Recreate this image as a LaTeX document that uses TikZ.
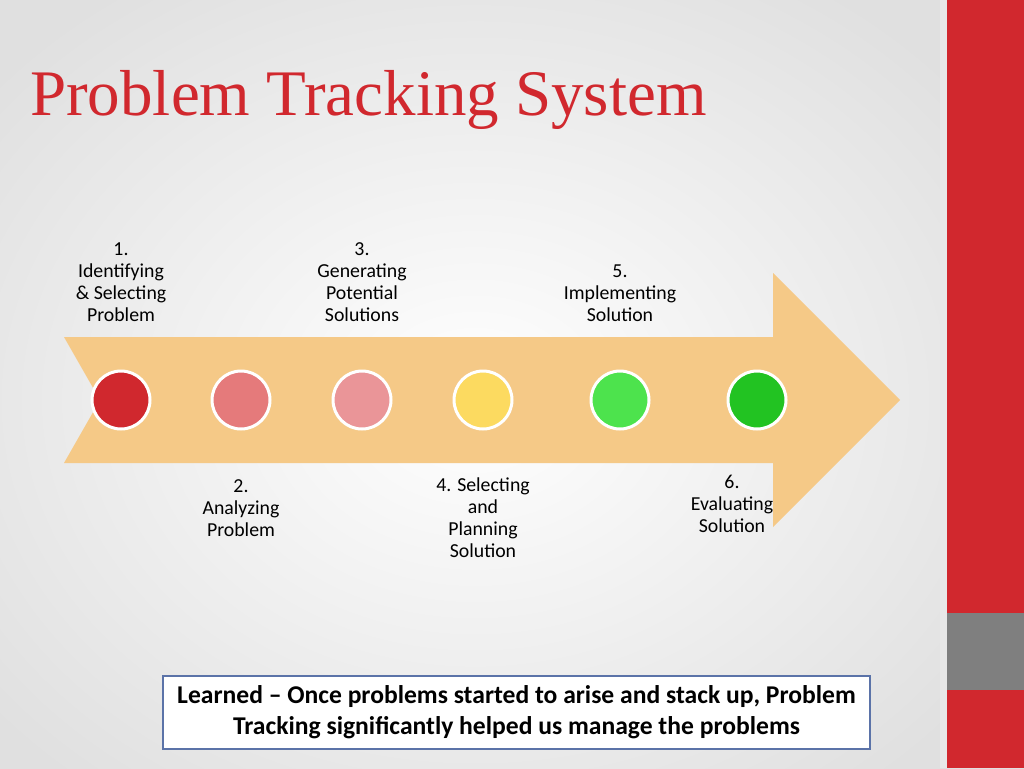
\documentclass[tikz,border=0pt]{standalone}
\usepackage{fontspec}
\setmainfont{Carlito}
\newfontfamily\titlefont{Liberation Serif}
\definecolor{barred}{HTML}{D1282E}
\definecolor{bargrey}{HTML}{7F7F7F}
\definecolor{stripgrey}{HTML}{E8E8E8}
\definecolor{bgouter}{HTML}{E0E0E0}
\definecolor{arrowfill}{HTML}{F5C987}
\definecolor{cA}{HTML}{D0282E}
\definecolor{cB}{HTML}{E57A7B}
\definecolor{cC}{HTML}{EA9598}
\definecolor{cD}{HTML}{FCDA60}
\definecolor{cE}{HTML}{4DE34D}
\definecolor{cF}{HTML}{22C322}
\definecolor{boxblue}{HTML}{5B73A8}
\begin{document}
\begin{tikzpicture}[x=1pt,y=-1pt,
  dot/.style={circle,draw=white,line width=3pt,minimum size=58pt,inner sep=0pt},
  lbl/.style={align=center,font=\fontsize{19.8}{22}\selectfont,inner sep=0pt}]
\useasboundingbox (0,0) rectangle (1024,768);
\shade[inner color=white,outer color=bgouter] (-150,-100) rectangle (1100,900);
% right bar
\fill[stripgrey] (940,0) rectangle (947,768);
\fill[barred] (947,0) rectangle (1024,613);
\fill[bargrey] (947,613) rectangle (1024,690);
\fill[barred] (947,690) rectangle (1024,768);
% title
\node[anchor=base west,inner sep=0pt,text=barred,font=\titlefont\fontsize{65}{70}\selectfont] (title) at (30,115) {Problem Tracking System};
% arrow
\fill[arrowfill] (64,337) -- (773,337) -- (773,273) -- (900,400) -- (773,527) -- (773,463) -- (64,463) -- (100,400) -- cycle;
% circles
\node[dot,fill=cA] (c1) at (121,400) {};
\node[dot,fill=cB] (c2) at (241,400) {};
\node[dot,fill=cC] (c3) at (362,400) {};
\node[dot,fill=cD] (c4) at (483,400) {};
\node[dot,fill=cE] (c5) at (620,400) {};
\node[dot,fill=cF] (c6) at (757,400) {};
% labels (anchor=base is the baseline of the last line)
\node[lbl,anchor=base] (l1) at (121,321) {1.\\Identifying\\\&~Selecting\\Problem};
\node[lbl,anchor=base] (l3) at (362,321) {3.\\Generating\\Potential\\Solutions};
\node[lbl,anchor=base] (l5) at (620,321) {5.\\Implementing\\Solution};
\node[lbl,anchor=base] (l2) at (241,536) {2.\\Analyzing\\Problem};
\node[lbl,anchor=base] (l4) at (483,557) {4. Selecting\\and\\Planning\\Solution};
\node[lbl,anchor=base] (l6) at (732,532) {6.\\Evaluating\\Solution};
% box
\draw[boxblue,line width=2pt,fill=white] (163,676) rectangle (870,749);
\node[align=center,inner sep=0pt,font=\bfseries\fontsize{25.6}{31}\selectfont] (note) at (516.5,712.5) {Learned -- Once problems started to arise and stack up, Problem\\Tracking significantly helped us manage the problems};
\end{tikzpicture}
\end{document}
